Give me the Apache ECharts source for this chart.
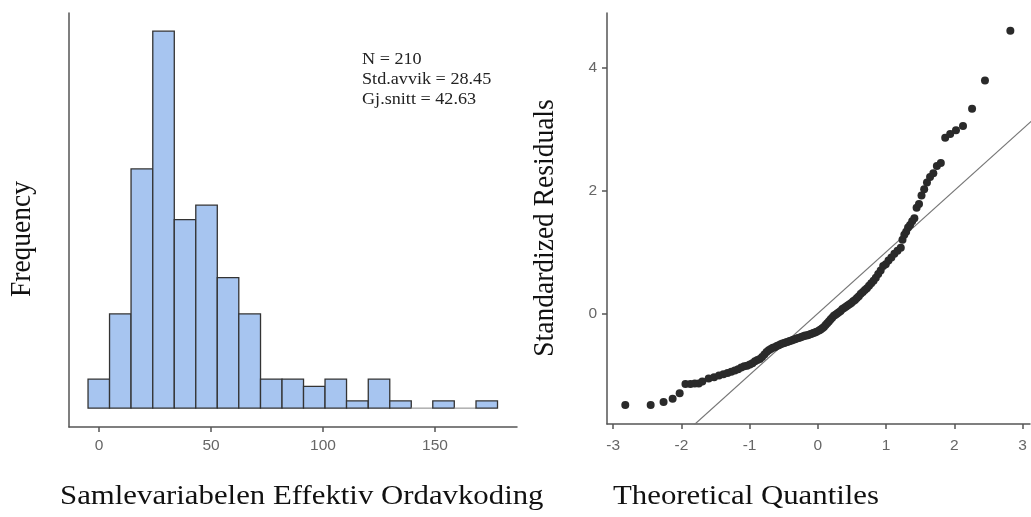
<!DOCTYPE html>
<html>
<head>
<meta charset="utf-8">
<script src="https://cdn.jsdelivr.net/npm/echarts@6/dist/echarts.min.js"></script>
<style>
html,body{margin:0;padding:0;background:#fff;}
#c{width:1031px;height:517px;}
</style>
</head>
<body>
<div id="c"></div>
<script>
// Histogram data (bin edges, counts per bin)
const binEdges = [-4.9, 4.7, 14.3, 24.0, 33.6, 43.2, 52.8, 62.4, 72.1, 81.7, 91.3, 100.9, 110.5, 120.2, 129.8, 139.4, 149.0, 158.6, 168.3, 177.9];
const binCounts = [4, 13, 33, 52, 26, 28, 18, 13, 4, 4, 3, 4, 1, 4, 1, 0, 1, 0, 1];
const histXTicks = [0, 50, 100, 150];
const statsText = ['N = 210', 'Std.avvik = 28.45', 'Gj.snitt = 42.63'];

// Q-Q plot data
const qqTheoretical = [
 -2.822,-2.450,-2.261,-2.128,-2.025,-1.940,-1.867,-1.803,-1.745,-1.693,
 -1.600,-1.520,-1.448,-1.383,-1.323,-1.268,-1.216,-1.168,-1.122,-1.078,
 -1.036,-0.996,-0.958,-0.921,-0.885,-0.850,-0.817,-0.783,-0.751,-0.720,
 -0.690,-0.660,-0.630,-0.601,-0.573,-0.545,-0.518,-0.491,-0.464,-0.437,
 -0.411,-0.385,-0.360,-0.334,-0.309,-0.284,-0.259,-0.235,-0.210,-0.186,
 -0.162,-0.138,-0.114,-0.090,-0.066,-0.042,-0.018,
 0.018,0.042,0.066,0.090,0.114,0.138,0.162,0.186,0.210,0.235,
 0.259,0.284,0.309,0.334,0.360,0.385,0.411,0.437,0.464,0.491,
 0.518,0.545,0.573,0.601,0.630,0.660,0.690,0.720,0.751,0.783,
 0.817,0.850,0.885,0.921,0.958,0.996,1.036,1.078,1.122,1.168,
 1.216,1.241,1.268,1.295,1.323,1.352,1.383,1.415,1.448,1.483,
 1.520,1.559,1.600,1.645,1.693,1.745,1.803,1.867,1.940,2.025,
 2.128,2.261,2.450,2.822
];
const qqResiduals = [
 -1.49,-1.49,-1.44,-1.39,-1.30,-1.15,-1.15,-1.14,-1.14,-1.11,
 -1.06,-1.04,-1.01,-0.99,-0.97,-0.95,-0.93,-0.91,-0.88,-0.86,
 -0.85,-0.83,-0.81,-0.78,-0.76,-0.74,-0.71,-0.67,-0.63,-0.60,
 -0.58,-0.56,-0.55,-0.53,-0.52,-0.50,-0.49,-0.48,-0.47,-0.46,
 -0.45,-0.44,-0.43,-0.42,-0.41,-0.40,-0.39,-0.38,-0.37,-0.36,
 -0.36,-0.35,-0.34,-0.33,-0.32,-0.31,-0.30,
 -0.28,-0.26,-0.24,-0.22,-0.19,-0.16,-0.13,-0.10,-0.07,-0.04,
 -0.02,0.00,0.02,0.04,0.07,0.09,0.11,0.13,0.15,0.17,
 0.20,0.22,0.25,0.28,0.32,0.35,0.38,0.41,0.45,0.49,
 0.53,0.58,0.64,0.70,0.77,0.80,0.86,0.91,0.97,1.02,
 1.07,1.20,1.28,1.33,1.40,1.44,1.50,1.55,1.72,1.78,
 1.92,2.02,2.13,2.22,2.28,2.40,2.45,2.86,2.92,2.98,
 3.05,3.33,3.79,4.60
];
const refLine = [[-1.9, -1.9], [3.3, 3.3]];
const qqXTicks = [-3, -2, -1, 0, 1, 2, 3];
const qqYTicks = [0, 2, 4];

const histData = binCounts.map((c, i) => [binEdges[i], binEdges[i + 1], c]);
const qqData = qqTheoretical.map((x, i) => [x, qqResiduals[i]]);

const axisColor = '#555';
const labelStyle = { color: '#666', fontSize: 15.5, fontFamily: 'Liberation Sans, Arial, sans-serif' };
const serif = 'Liberation Serif, Times New Roman, serif';

const chart = echarts.init(document.getElementById('c'), null, { renderer: 'canvas' });
chart.setOption({
  animation: false,
  backgroundColor: '#fff',
  grid: [
    { left: 69, top: 13, width: 448, height: 414 },
    { left: 607, top: 13, width: 423, height: 411 }
  ],
  xAxis: [
    {
      gridIndex: 0, type: 'value', min: -13.4, max: 186.6,
      splitLine: { show: false },
      axisLine: { show: true, onZero: false, lineStyle: { color: axisColor, width: 1.5 } },
      axisTick: { show: true, length: 5, lineStyle: { color: axisColor, width: 1.5 }, customValues: histXTicks },
      axisLabel: Object.assign({ margin: 11, customValues: histXTicks }, labelStyle)
    },
    {
      gridIndex: 1, type: 'value', min: -3.09, max: 3.11,
      splitLine: { show: false },
      axisLine: { show: true, onZero: false, lineStyle: { color: axisColor, width: 1.5 } },
      axisTick: { show: true, length: 5, lineStyle: { color: axisColor, width: 1.5 }, customValues: qqXTicks },
      axisLabel: Object.assign({ margin: 14, customValues: qqXTicks }, labelStyle)
    }
  ],
  yAxis: [
    {
      gridIndex: 0, type: 'value', min: -2.6, max: 54.5,
      splitLine: { show: false },
      axisLine: { show: true, onZero: false, lineStyle: { color: axisColor, width: 1.5 } },
      axisTick: { show: false },
      axisLabel: { show: false }
    },
    {
      gridIndex: 1, type: 'value', min: -1.8, max: 4.89,
      splitLine: { show: false },
      axisLine: { show: true, onZero: false, lineStyle: { color: axisColor, width: 1.5 } },
      axisTick: { show: true, length: 5, lineStyle: { color: axisColor, width: 1.5 }, customValues: qqYTicks },
      axisLabel: Object.assign({ margin: 10, customValues: qqYTicks }, labelStyle)
    }
  ],
  series: [
    {
      type: 'custom',
      xAxisIndex: 0, yAxisIndex: 0,
      data: histData,
      renderItem: function (params, api) {
        const p0 = api.coord([api.value(0), 0]);
        const p1 = api.coord([api.value(1), api.value(2)]);
        if (api.value(2) === 0) {
          return {
            type: 'line',
            shape: { x1: p0[0], y1: p0[1], x2: p1[0], y2: p0[1] },
            style: { stroke: '#999', lineWidth: 1.2 }
          };
        }
        return {
          type: 'rect',
          shape: { x: p0[0], y: p1[1], width: p1[0] - p0[0], height: p0[1] - p1[1] },
          style: { fill: '#a7c5f0', stroke: '#333', lineWidth: 1.3 }
        };
      }
    },
    {
      type: 'line',
      xAxisIndex: 1, yAxisIndex: 1,
      data: refLine,
      showSymbol: false,
      clip: true,
      lineStyle: { color: '#777', width: 1.2 },
      z: 1
    },
    {
      type: 'scatter',
      xAxisIndex: 1, yAxisIndex: 1,
      data: qqData,
      symbolSize: 8,
      clip: false,
      itemStyle: { color: '#2a2a2a', opacity: 1 },
      z: 2
    }
  ],
  graphic: [
    {
      type: 'group', left: 362, top: 51,
      children: statsText.map((t, i) => ({
        type: 'text', x: 0, y: i * 20, scaleX: 1.1,
        style: { text: t, font: '16.5px ' + serif, fill: '#222' }
      }))
    },
    {
      type: 'text', x: 60, y: 497, scaleX: 1.12,
      style: { text: 'Samlevariabelen Effektiv Ordavkoding', font: '27.5px ' + serif, fill: '#111', verticalAlign: 'middle' }
    },
    {
      type: 'text', x: 613, y: 497, scaleX: 1.12,
      style: { text: 'Theoretical Quantiles', font: '27.5px ' + serif, fill: '#111', verticalAlign: 'middle' }
    },
    {
      type: 'text', x: 22, y: 239, rotation: Math.PI / 2, scaleY: 1.1,
      style: { text: 'Frequency', font: '27.5px ' + serif, fill: '#111', align: 'center', verticalAlign: 'middle' }
    },
    {
      type: 'text', x: 545, y: 228, rotation: Math.PI / 2, scaleY: 1.1,
      style: { text: 'Standardized Residuals', font: '27.5px ' + serif, fill: '#111', align: 'center', verticalAlign: 'middle' }
    }
  ]
});
</script>
</body>
</html>
